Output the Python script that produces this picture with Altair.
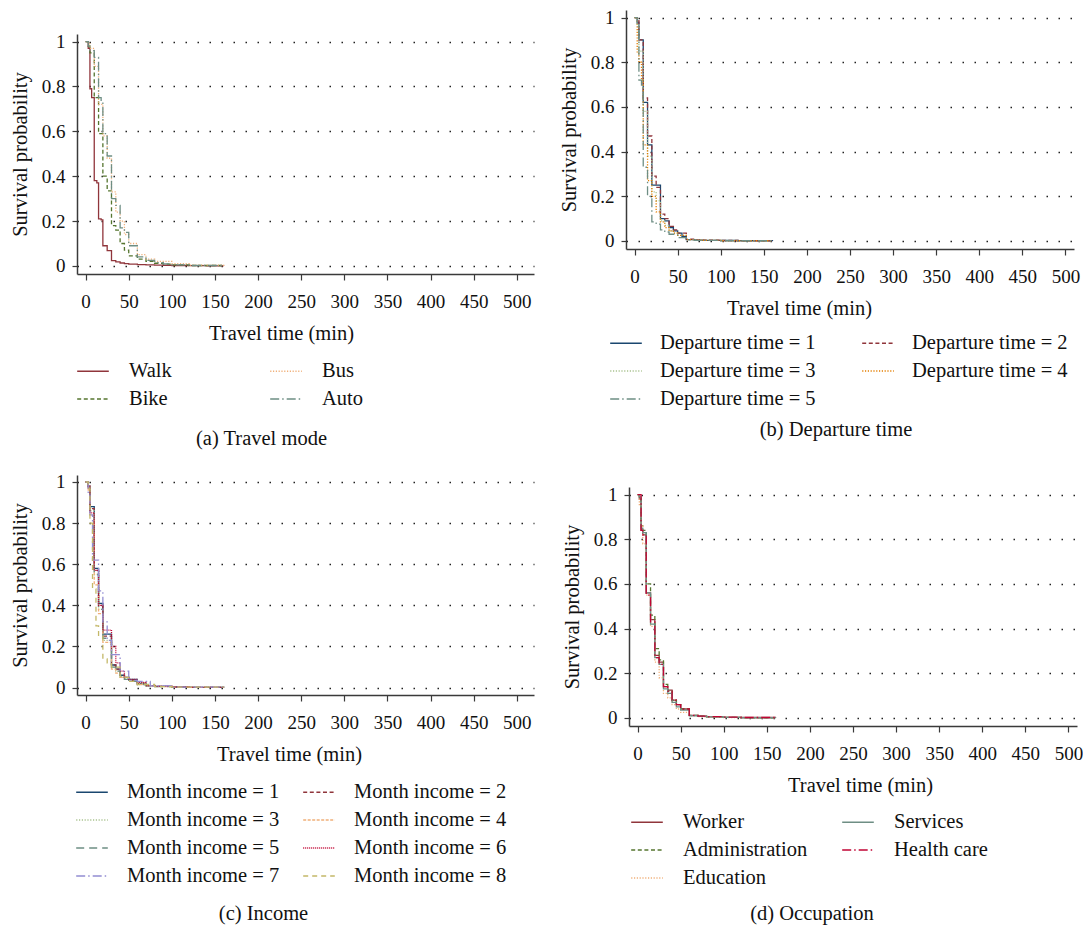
import altair as alt
import pandas as pd

FONT = "Liberation Serif"

# Stata s2color-like palette
NAVY = "#1a476f"
MAROON = "#90353b"
FOREST = "#55752f"
DKORANGE = "#e37e00"
TEAL = "#6e8e84"
CRANBERRY = "#c10534"
LAVENDER = "#938dd2"
KHAKI = "#c4b868"
PALE_ORANGE = "#f0b07a"
PALE_GREEN = "#a9c28f"

# ---------------- (a) Travel mode ----------------
mode_names = ["Walk", "Bike", "Bus", "Auto"]
walk_t = [0, 3, 5, 7, 10, 13, 15, 18, 20, 25, 30, 35, 40, 45, 50, 60, 70, 80, 90, 100, 120, 140, 160]
walk_s = [1, 0.97, 0.79, 0.75, 0.38, 0.37, 0.21, 0.205, 0.09, 0.068, 0.024, 0.018, 0.013, 0.01, 0.008, 0.006, 0.005, 0.004, 0.003, 0.002, 0.001, 0.0005, 0]
bike_t = [0, 3, 5, 10, 15, 20, 25, 30, 35, 40, 45, 50, 60, 70, 80, 90, 100, 120, 160]
bike_s = [1, 0.98, 0.95, 0.75, 0.59, 0.40, 0.335, 0.18, 0.16, 0.10, 0.07, 0.045, 0.03, 0.02, 0.012, 0.008, 0.005, 0.002, 0]
bus_t = [0, 3, 5, 10, 15, 20, 25, 30, 35, 40, 45, 50, 60, 70, 80, 100, 120, 160]
bus_s = [1, 0.99, 0.97, 0.89, 0.72, 0.58, 0.48, 0.33, 0.24, 0.2, 0.14, 0.1, 0.05, 0.03, 0.02, 0.01, 0.004, 0]
auto_t = [0, 3, 5, 10, 15, 18, 20, 25, 30, 35, 40, 45, 50, 60, 70, 80, 90, 100, 120, 160]
auto_s = [1, 0.98, 0.96, 0.93, 0.75, 0.73, 0.59, 0.49, 0.30, 0.27, 0.17, 0.15, 0.09, 0.04, 0.025, 0.015, 0.009, 0.005, 0.002, 0]

# ---------------- (b) Departure time ----------------
dep_names = ["Departure time = 1", "Departure time = 2", "Departure time = 3",
             "Departure time = 4", "Departure time = 5"]
dep1_t = [0, 3, 5, 10, 15, 20, 30, 35, 40, 45, 50, 55, 60, 70, 80, 100, 120, 160]
dep1_s = [1, 0.98, 0.9, 0.62, 0.43, 0.25, 0.10, 0.09, 0.06, 0.045, 0.035, 0.02, 0.006, 0.004, 0.003, 0.002, 0.001, 0]
dep2_t = [0, 3, 5, 10, 15, 20, 25, 30, 35, 40, 45, 50, 60, 70, 80, 100, 120, 160]
dep2_s = [1, 0.99, 0.9, 0.64, 0.47, 0.29, 0.24, 0.12, 0.10, 0.065, 0.05, 0.035, 0.008, 0.005, 0.004, 0.002, 0.001, 0]
dep3_t = [0, 3, 5, 10, 15, 20, 25, 30, 35, 40, 45, 50, 60, 70, 80, 100, 120, 160]
dep3_s = [1, 0.97, 0.85, 0.58, 0.38, 0.22, 0.18, 0.09, 0.07, 0.045, 0.035, 0.025, 0.006, 0.004, 0.003, 0.002, 0.001, 0]
dep4_t = [0, 3, 5, 8, 10, 15, 20, 25, 30, 35, 40, 45, 50, 60, 70, 80, 100, 160]
dep4_s = [1, 0.84, 0.8, 0.72, 0.43, 0.27, 0.2, 0.13, 0.085, 0.06, 0.045, 0.035, 0.025, 0.006, 0.004, 0.003, 0.001, 0]
dep5_t = [0, 3, 5, 8, 10, 15, 20, 25, 30, 35, 40, 50, 60, 70, 100, 160]
dep5_s = [1, 0.96, 0.72, 0.69, 0.33, 0.20, 0.085, 0.075, 0.05, 0.04, 0.03, 0.015, 0.005, 0.003, 0.001, 0]

# ---------------- (c) Income ----------------
inc_names = ["Month income = %d" % i for i in range(1, 9)]
inc_t = [0, 3, 5, 10, 15, 20, 30, 35, 40, 45, 50, 60, 70, 80, 100, 120, 160]
inc1_s = [1, 0.98, 0.88, 0.58, 0.41, 0.26, 0.11, 0.09, 0.06, 0.05, 0.04, 0.02, 0.01, 0.006, 0.003, 0.001, 0]
inc2_s = [1, 0.97, 0.87, 0.57, 0.40, 0.25, 0.11, 0.09, 0.06, 0.05, 0.035, 0.02, 0.01, 0.006, 0.003, 0.001, 0]
inc3_s = [1, 0.98, 0.86, 0.55, 0.38, 0.23, 0.10, 0.08, 0.055, 0.045, 0.035, 0.02, 0.01, 0.006, 0.003, 0.001, 0]
inc4_s = [1, 0.96, 0.84, 0.50, 0.36, 0.22, 0.09, 0.07, 0.05, 0.04, 0.03, 0.015, 0.008, 0.005, 0.002, 0.001, 0]
inc5_s = [1, 0.98, 0.86, 0.55, 0.38, 0.24, 0.10, 0.08, 0.05, 0.04, 0.03, 0.015, 0.008, 0.005, 0.002, 0.001, 0]
inc6_s = [1, 0.98, 0.85, 0.57, 0.40, 0.28, 0.20, 0.12, 0.08, 0.05, 0.04, 0.025, 0.01, 0.006, 0.003, 0.001, 0]
inc7_t = [0, 3, 5, 8, 15, 20, 25, 30, 40, 50, 60, 75, 100, 160]
inc7_s = [1, 0.95, 0.84, 0.62, 0.47, 0.32, 0.23, 0.16, 0.08, 0.035, 0.03, 0.008, 0.002, 0]
inc8_t = [0, 3, 5, 8, 12, 15, 20, 25, 30, 40, 50, 60, 80, 100, 160]
inc8_s = [1, 0.97, 0.80, 0.48, 0.30, 0.25, 0.14, 0.12, 0.10, 0.05, 0.03, 0.015, 0.005, 0.002, 0]

# ---------------- (d) Occupation ----------------
occ_names = ["Worker", "Administration", "Education", "Services", "Health care"]
occ_t = [0, 2, 4, 6, 10, 15, 20, 25, 30, 35, 40, 45, 50, 60, 70, 80, 100, 120, 160]
worker_s = [1, 0.98, 0.84, 0.82, 0.56, 0.44, 0.28, 0.25, 0.14, 0.125, 0.08, 0.06, 0.04, 0.012, 0.008, 0.005, 0.003, 0.002, 0]
admin_s = [1, 0.99, 0.86, 0.84, 0.60, 0.46, 0.31, 0.26, 0.15, 0.12, 0.08, 0.06, 0.04, 0.012, 0.008, 0.005, 0.003, 0.001, 0]
educ_s = [1, 0.95, 0.86, 0.78, 0.55, 0.41, 0.25, 0.18, 0.11, 0.09, 0.06, 0.04, 0.025, 0.01, 0.006, 0.004, 0.002, 0.001, 0]
serv_s = [1, 0.99, 0.85, 0.83, 0.56, 0.42, 0.27, 0.24, 0.13, 0.11, 0.07, 0.05, 0.035, 0.01, 0.007, 0.005, 0.003, 0.001, 0]
health_s = [1, 1, 0.84, 0.82, 0.55, 0.43, 0.27, 0.24, 0.14, 0.12, 0.08, 0.06, 0.04, 0.012, 0.008, 0.006, 0.004, 0.002, 0]

x_ticks = list(range(0, 501, 50))
y_ticks = [0, 0.2, 0.4, 0.6, 0.8, 1]

SOLID = [1, 0]
DASH = [4, 2.6]
DOT = [1.2, 1.6]
DASHDOT = [9, 3, 1.5, 3]
LONGDASH = [8, 5]


def long_df(names, times, survs):
    rows = []
    for n, t, s in zip(names, times, survs):
        for ti, si in zip(t, s):
            rows.append({"t": ti, "s": si, "g": n})
    return pd.DataFrame(rows)


def panel(df, order, colors, dashes, width, height, xmax, leg_x, leg_y, col_pad,
          lab_off, title_x, caption, cap_dx, cap_off):
    # order is column-major: the legend fills its first column, then the second
    leg = alt.Legend(title=None, orient="none", legendX=leg_x, legendY=leg_y,
                     columns=2, symbolType="stroke", symbolSize=1000,
                     symbolStrokeWidth=1.4, labelFont=FONT, labelFontSize=20.5,
                     labelColor="#111", labelLimit=400, columnPadding=col_pad,
                     rowPadding=0, labelOffset=lab_off)
    return alt.Chart(df).mark_line(interpolate="step-after", strokeWidth=1.3).encode(
        x=alt.X("t:Q", scale=alt.Scale(domain=[-10, xmax], nice=False, zero=False),
                axis=alt.Axis(values=x_ticks, title="Travel time (min)", grid=False,
                              tickSize=6, labelPadding=12, labelFontSize=19,
                              titleFontSize=20.5, titleX=title_x, titleY=49,
                              titleBaseline="top", titleAlign="center")),
        y=alt.Y("s:Q", scale=alt.Scale(domain=[-0.036, 1.034], nice=False, zero=False),
                axis=alt.Axis(values=y_ticks, format="~g", title="Survival probability",
                              grid=True, gridDash=[1.5, 10.5], gridColor="#222",
                              gridWidth=1.4, tickSize=5, labelPadding=7,
                              labelFontSize=19, titleFontSize=20.5, titlePadding=11)),
        color=alt.Color("g:N", scale=alt.Scale(domain=order, range=colors), legend=leg),
        strokeDash=alt.StrokeDash("g:N", scale=alt.Scale(domain=order, range=dashes), legend=leg),
    ).properties(
        width=width, height=height,
        title=alt.TitleParams(caption, orient="bottom", anchor="middle", frame="group",
                              dx=cap_dx, offset=cap_off, fontSize=20.5, font=FONT,
                              fontWeight="normal", color="#111"),
    )


def spacer(h):
    return alt.Chart(pd.DataFrame({"v": [0]})).mark_text(text="").encode(
        opacity=alt.value(0)).properties(width=10, height=h)


def indep(ch):
    return ch.resolve_scale(color="independent", strokeDash="independent").resolve_legend(
        color="independent", strokeDash="independent")


df_a = long_df(mode_names, [walk_t, bike_t, bus_t, auto_t], [walk_s, bike_s, bus_s, auto_s])
pa = panel(df_a, ["Walk", "Bike", "Bus", "Auto"],
           [MAROON, FOREST, PALE_ORANGE, TEAL], [SOLID, DASH, DOT, DASHDOT],
           457, 240, 520, -1, 320, 95, 19, 204, "(a)  Travel mode", -44, 19)

df_b = long_df(dep_names, [dep1_t, dep2_t, dep3_t, dep4_t, dep5_t],
               [dep1_s, dep2_s, dep3_s, dep4_s, dep5_s])
pb = panel(df_b,
           ["Departure time = 1", "Departure time = 3", "Departure time = 5",
            "Departure time = 2", "Departure time = 4"],
           [NAVY, PALE_GREEN, TEAL, MAROON, DKORANGE],
           [SOLID, DOT, DASHDOT, DASH, DOT],
           448, 239, 510, -17, 316, 43, 17, 173, "(b)  Departure time", -14, 10)

df_c = long_df(inc_names, [inc_t] * 6 + [inc7_t, inc8_t],
               [inc1_s, inc2_s, inc3_s, inc4_s, inc5_s, inc6_s, inc7_s, inc8_s])
pc = panel(df_c,
           [inc_names[i] for i in (0, 2, 4, 6, 1, 3, 5, 7)],
           [NAVY, PALE_GREEN, TEAL, LAVENDER, MAROON, PALE_ORANGE, CRANBERRY, KHAKI],
           [SOLID, DOT, LONGDASH, DASHDOT, DASH, [3, 1.5], [1, 1], [5, 4]],
           457, 220, 520, -2, 300, 20, 18, 212, "(c)  Income", -42, 17)

df_d = long_df(occ_names, [occ_t] * 5, [worker_s, admin_s, educ_s, serv_s, health_s])
pd_ = panel(df_d, ["Worker", "Administration", "Education", "Services", "Health care"],
            [MAROON, FOREST, PALE_ORANGE, TEAL, CRANBERRY],
            [SOLID, DASH, DOT, SOLID, DASHDOT],
            448, 239, 510, 1, 318, 31, 19, 231, "(d)  Occupation", -41, 15)

row1 = indep(alt.hconcat(indep(alt.vconcat(spacer(22), pa, spacing=0)), pb, spacing=25))
row2 = indep(alt.hconcat(pc, indep(alt.vconcat(spacer(9), pd_, spacing=0)), spacing=28))

chart = indep(alt.vconcat(row1, row2, spacing=22)).configure(
    font=FONT, padding={"left": 2, "top": 0, "right": 0, "bottom": 0}
).configure_view(stroke=None).configure_axis(
    labelFont=FONT, titleFont=FONT, labelColor="#111", titleColor="#111",
    titleFontWeight="normal", domainColor="#3a3a3a", tickColor="#3a3a3a",
    domainWidth=1.5, tickWidth=1.2,
)

chart.save("out.html", embed_options={"renderer": "svg", "actions": False})
